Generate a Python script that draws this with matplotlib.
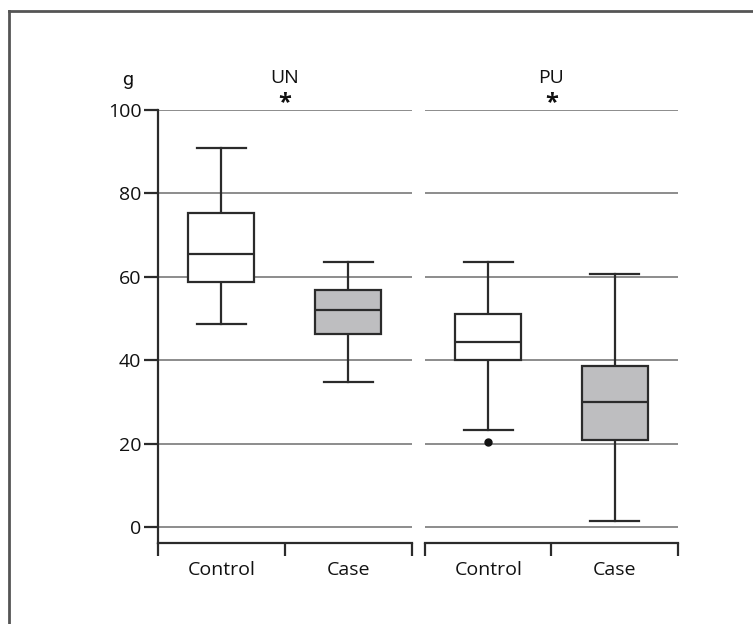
import numpy as np
import matplotlib.pyplot as plt
from matplotlib.lines import Line2D

plt.rcParams['font.family'] = ['Open Sans', 'DejaVu Sans']

groups = ['UN', 'PU']
categories = ['Control', 'Case']

# box stats: whislo, q1, med, q3, whishi
un_stats = [[48.8, 58.8, 65.5, 75.2, 90.9],
            [34.8, 46.4, 52.0, 56.8, 63.5]]
pu_stats = [[23.4, 40.0, 44.5, 51.2, 63.5],
            [1.4, 21.0, 30.0, 38.7, 60.7]]
un_fliers = [[], []]
pu_fliers = [[20.5], []]

yticks = [0, 20, 40, 60, 80, 100]
box_colors = ['white', '#bebec0']
edge = '#2b2b2b'
grid_col = '#8c8c8c'
fs = 14

fig = plt.figure(figsize=(7.53, 6.24), dpi=100)
ax1 = fig.add_axes([0.2098, 0.1298, 0.3373, 0.6939])
ax2 = fig.add_axes([0.5644, 0.1298, 0.3360, 0.6939])


def make_stats(rows, fliers):
    out = []
    for r, f in zip(rows, fliers):
        out.append(dict(whislo=r[0], q1=r[1], med=r[2], q3=r[3], whishi=r[4],
                        fliers=f))
    return out


for ax, rows, fl, name in [(ax1, un_stats, un_fliers, 'UN'),
                           (ax2, pu_stats, pu_fliers, 'PU')]:
    for y in yticks:
        ax.axhline(y, color=grid_col, lw=1.4, zorder=0)
    bp = ax.bxp(make_stats(rows, fl), positions=[1, 2], widths=0.52,
                patch_artist=True, showfliers=True,
                boxprops=dict(edgecolor=edge, linewidth=1.6, zorder=3),
                medianprops=dict(color=edge, linewidth=1.6, zorder=4),
                whiskerprops=dict(color=edge, linewidth=1.6),
                capprops=dict(color=edge, linewidth=1.6),
                capwidths=0.39,
                flierprops=dict(marker='o', markerfacecolor='#111111',
                                markeredgecolor='#111111', markersize=5))
    for patch, c in zip(bp['boxes'], box_colors):
        patch.set_facecolor(c)
    ax.set_xlim(0.5, 2.5)
    ax.set_ylim(-3.8, 100)
    for s in ['top', 'right']:
        ax.spines[s].set_visible(False)
    ax.spines['bottom'].set_linewidth(1.6)
    ax.spines['bottom'].set_color(edge)
    ax.set_xticks([0.5, 1.5, 2.5])
    ax.set_xticklabels([])
    ax.set_xticks([1, 2], minor=True)
    ax.set_xticklabels(categories, minor=True, fontsize=fs, color='#111111')
    ax.tick_params(axis='x', which='major', direction='out', length=9,
                   width=1.6, color=edge)
    ax.tick_params(axis='x', which='minor', length=0, pad=13)
    ax.text(1.5, 1.075, name, transform=ax.get_xaxis_transform(), ha='center',
            va='center', fontsize=fs, color='#111111')
    ax.text(1.5, 1.016, '*', transform=ax.get_xaxis_transform(), ha='center',
            va='center', fontsize=17, fontweight='bold', color='#111111')

ax1.spines['left'].set_linewidth(1.6)
ax1.spines['left'].set_color(edge)
ax1.set_yticks(yticks)
ax1.set_yticklabels([str(v) for v in yticks], fontsize=fs, color='#111111')
ax1.tick_params(axis='y', direction='out', length=10, width=1.6, color=edge,
                pad=2)
ax1.text(-0.12, 1.07, 'g', transform=ax1.transAxes, ha='center', va='center',
         fontsize=fs, color='#111111', family=['Roboto', 'DejaVu Sans'])

ax2.spines['left'].set_visible(False)
ax2.set_yticks([])

# page frame partly visible at the top left
fig.add_artist(Line2D([9 / 753, 9 / 753], [0, 1 - 11 / 624],
                      transform=fig.transFigure, color='#555555', lw=2))
fig.add_artist(Line2D([9 / 753, 1], [1 - 11 / 624, 1 - 11 / 624],
                      transform=fig.transFigure, color='#555555', lw=2))

fig.savefig('out.png', dpi=100)
